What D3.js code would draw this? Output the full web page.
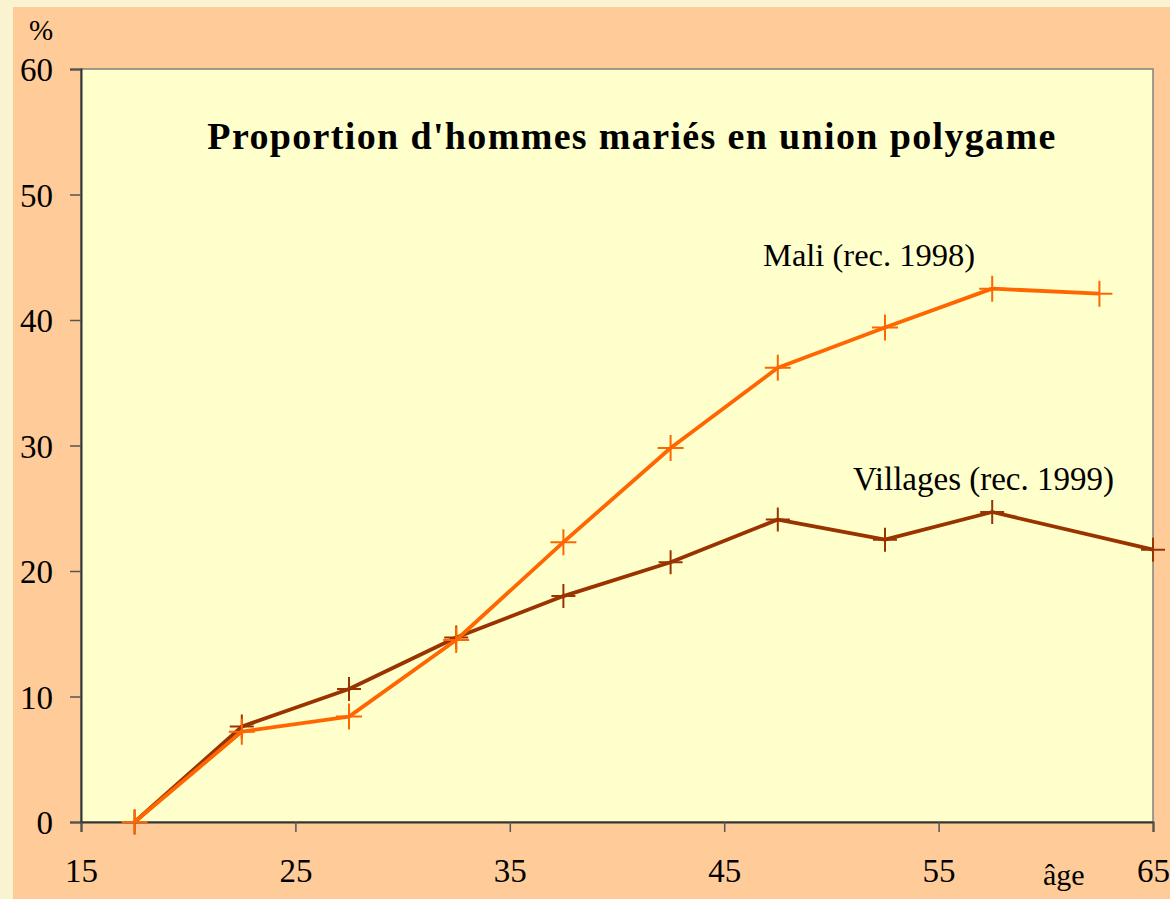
<!DOCTYPE html>
<html>
<head>
<meta charset="utf-8">
<script src="https://cdn.jsdelivr.net/npm/d3@7"></script>
<style>
  body { margin: 0; background: #faf3d2; }
  svg text { font-family: "Liberation Serif", "Times New Roman", serif; fill: #000; }
</style>
</head>
<body>
<svg id="chart" width="1170" height="899"></svg>
<script>
const ages = [17.5, 22.5, 27.5, 32.5, 37.5, 42.5, 47.5, 52.5, 57.5, 62.5];
const maliValues = [0, 7.2, 8.4, 14.5, 22.3, 29.8, 36.2, 39.4, 42.5, 42.1];
const villageAges = [17.5, 22.5, 27.5, 32.5, 37.5, 42.5, 47.5, 52.5, 57.5, 65];
const villageValues = [0, 7.6, 10.6, 14.7, 18.0, 20.7, 24.1, 22.5, 24.7, 21.7];
const xTicks = [15, 25, 35, 45, 55, 65];
const yTicks = [0, 10, 20, 30, 40, 50, 60];

const svg = d3.select("#chart");
const plot = { left: 81, top: 69, right: 1153, bottom: 822 };

svg.append("rect").attr("x", 13).attr("y", 7).attr("width", 1170 - 13).attr("height", 899 - 7)
  .attr("fill", "#ffcc99");
svg.append("rect").attr("x", plot.left).attr("y", plot.top)
  .attr("width", plot.right - plot.left).attr("height", plot.bottom - plot.top)
  .attr("fill", "#ffffcc").attr("stroke", "#808080").attr("stroke-width", 1.5);

const x = d3.scaleLinear().domain([15, 65]).range([plot.left, plot.right]);
const y = d3.scaleLinear().domain([0, 60]).range([plot.bottom, plot.top]);

const yAxis = svg.append("g").attr("transform", `translate(${plot.left},0)`)
  .call(d3.axisLeft(y).tickValues(yTicks).tickSize(11).tickPadding(17));
const xAxis = svg.append("g").attr("transform", `translate(0,${plot.bottom})`)
  .call(d3.axisBottom(x).tickValues(xTicks).tickSize(10).tickPadding(27));

[yAxis, xAxis].forEach((g) => {
  g.attr("font-size", null);
  g.select(".domain").attr("stroke", "#333").attr("stroke-width", 2);
  g.selectAll(".tick line").attr("stroke", "#555").attr("stroke-width", 1.5);
  g.selectAll(".tick text").style("font-size", "33px").attr("fill", "#000");
});
yAxis.selectAll(".tick text").attr("dy", "0.35em");

const line = d3.line().x((d) => x(d[0])).y((d) => y(d[1]));

const series = [
  { name: "Villages", pts: d3.zip(villageAges, villageValues), color: "#993300", size: 12 },
  { name: "Mali", pts: d3.zip(ages, maliValues), color: "#ff6600", size: 13 },
];

series.forEach((s) => {
  svg.append("path").datum(s.pts).attr("d", line)
    .attr("fill", "none").attr("stroke", s.color).attr("stroke-width", 3.8)
    .attr("stroke-linejoin", "round");
  svg.append("g").selectAll("path").data(s.pts).join("path")
    .attr("d", (d) => {
      const cx = x(d[0]), cy = y(d[1]), r = s.size;
      return `M${cx - r},${cy}H${cx + r}M${cx},${cy - r}V${cy + r}`;
    })
    .attr("stroke", s.color).attr("stroke-width", 2);
});

svg.append("text").attr("x", 632).attr("y", 149).attr("text-anchor", "middle")
  .style("font-size", "38px").style("letter-spacing", "1.35px").attr("font-weight", "bold")
  .text("Proportion d'hommes mariés en union polygame");
svg.append("text").attr("x", 763).attr("y", 266).style("font-size", "32.5px").text("Mali (rec. 1998)");
svg.append("text").attr("x", 853).attr("y", 490).style("font-size", "33px").text("Villages (rec. 1999)");
svg.append("text").attr("x", 29).attr("y", 40).style("font-size", "29px").text("%");
svg.append("text").attr("x", 1043).attr("y", 885).style("font-size", "30px").text("âge");
</script>
</body>
</html>
